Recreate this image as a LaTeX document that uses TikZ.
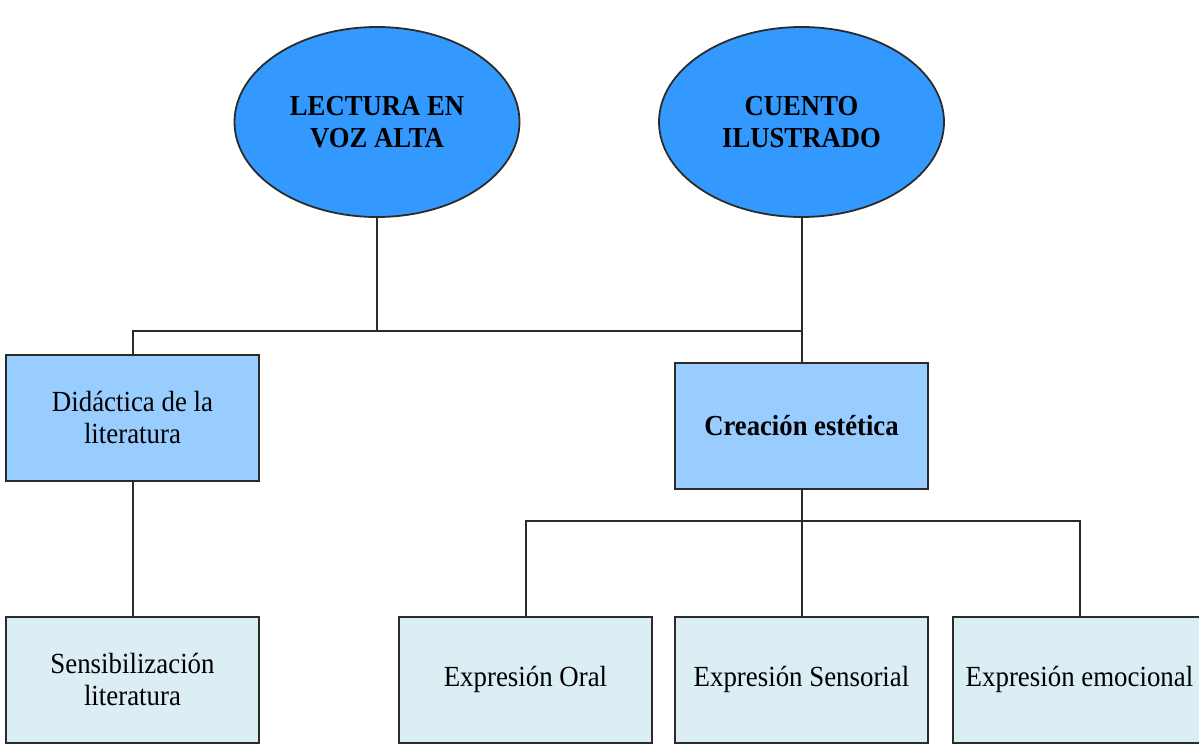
\documentclass[tikz,border=0pt]{standalone}
\usepackage{fontspec}
\setmainfont{Liberation Serif}[FakeStretch=0.92]
\usepackage{xcolor}
\usetikzlibrary{positioning,shapes.geometric}
\definecolor{ink}{HTML}{2B2B2B}
\definecolor{topBlue}{HTML}{3399FF}
\definecolor{midBlue}{HTML}{99CCFF}
\definecolor{lowBlue}{HTML}{DAEEF3}
\tikzset{
  link/.style={draw=ink, line width=1pt},
  txt/.style={font=\fontsize{14.6}{16}\selectfont, text=black},
  btxt/.style={font=\fontsize{14.5}{16}\selectfont\bfseries, text=black},
}
\begin{document}
\begin{tikzpicture}[x=0.5pt, y=-0.5pt,
  oval/.style={ellipse, draw=ink, line width=0.9pt, fill=topBlue, minimum width=142.5pt, minimum height=95pt, inner sep=0pt, align=center, btxt},
  box/.style={rectangle, draw=ink, line width=1pt, minimum width=126.5pt, minimum height=63pt, inner sep=0pt, align=center, txt},
  mid/.style={box, fill=midBlue},
  low/.style={box, fill=lowBlue}]
\clip (0,0) rectangle (1199,745);
% top level
\node[oval] (lva) at (377,122) {LECTURA EN\\VOZ ALTA};
\node[oval] (cue) at (801.5,122) {CUENTO\\ILUSTRADO};
% middle level
\node[mid] (did) at (132.5,417.5) {Didáctica de la\\literatura};
\node[mid, btxt] (cre) at (801.5,425.5) {Creación estética};
% bottom level
\node[low] (sbl) at (132.5,679.5) {Sensibilización\\literatura};
\node[low] (ora) at (525.5,679.5) {Expresión Oral};
\node[low, right=10.5pt of ora] (sen) {Expresión Sensorial};
\node[low, right=11.5pt of sen] (emo) {Expresión emocional};
% connectors
\coordinate (j1) at (377,331);
\coordinate (j2) at (801.5,521);
\draw[link] (lva) -- (j1) -| (did);
\draw[link] (j1) -- (j1 -| cue);
\draw[link] (cue) -- (cre);
\draw[link] (did) -- (sbl);
\draw[link] (cre) -- (sen);
\draw[link] (ora) |- (j2) -| (emo);
\end{tikzpicture}
\end{document}
